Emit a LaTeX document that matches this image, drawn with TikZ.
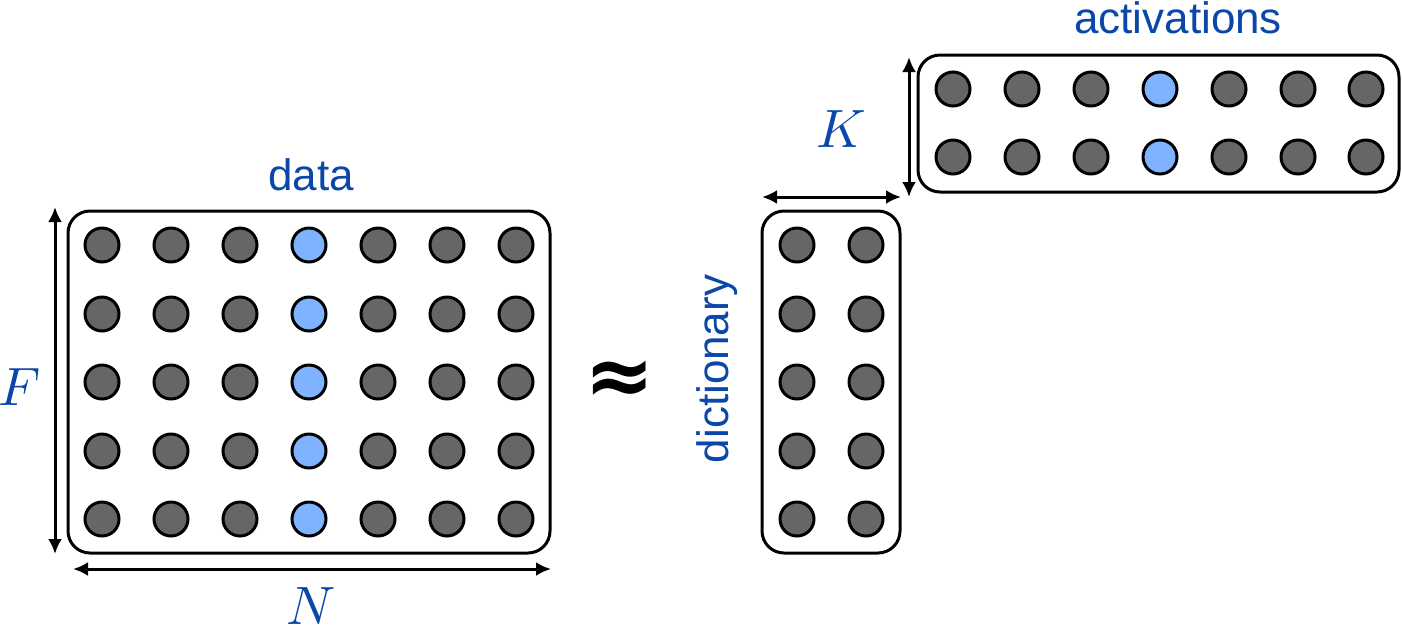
\documentclass[tikz,border=0pt]{standalone}
\usepackage{fontspec}
\newfontfamily\labfont{Liberation Sans}
\newfontfamily\symfont{DejaVu Sans}
\usetikzlibrary{arrows.meta}
\definecolor{labblue}{HTML}{0A47A8}
\definecolor{dotgray}{HTML}{666666}
\definecolor{dotblue}{HTML}{80B3FF}
\begin{document}
\begin{tikzpicture}[x=1pt,y=-1pt,
  mbox/.style={draw=black,line width=3pt,rounded corners=22pt},
  gdot/.style={circle,draw=black,line width=3pt,fill=dotgray,minimum size=34pt,inner sep=0pt},
  bdot/.style={gdot,fill=dotblue},
  dimarrow/.style={line width=3pt,{Latex[length=15pt,width=14pt]}-{Latex[length=15pt,width=14pt]}},
  wordlab/.style={text=labblue,font=\labfont\fontsize{44}{50}\selectfont,inner sep=0pt},
  mathlab/.style={text=labblue,inner sep=0pt}]
\useasboundingbox (0,0) rectangle (1402,625);
% data matrix
\draw[mbox] (68,211) rectangle (550,553);
\foreach \c [count=\i] in {102,171,240,309,378,447,516}{
  \foreach \r [count=\j] in {245,314,382,451,519}{
    \ifnum\i=4 \node[bdot] (d\i\j) at (\c,\r) {};
    \else \node[gdot] (d\i\j) at (\c,\r) {}; \fi
  }
}
\node[wordlab] (datalab) at (311,175) {data};
\coordinate (fT) at (55,207);
\coordinate (fB) at (55,554);
\draw[dimarrow] (fT) -- (fB);
\node[mathlab] (flab) at (20,387) {\scalebox{5.4}{$F$}};
\coordinate (nL) at (73,569);
\coordinate (nR) at (551,569);
\draw[dimarrow] (nL) -- (nR);
\node[mathlab] (nlab) at (311,606) {\scalebox{5.4}{$N$}};
% approx
\node[inner sep=0pt,font=\symfont\bfseries\fontsize{84}{90}\selectfont] (approx) at (620,383) {≈};
% dictionary
\draw[mbox] (762,211) rectangle (900,553);
\foreach \c [count=\i] in {797,866}{
  \foreach \r [count=\j] in {245,314,382,451,519}{
    \node[gdot] (k\i\j) at (\c,\r) {};
  }
}
\node[wordlab,rotate=90] (dictlab) at (717,369) {dictionary};
\coordinate (kL) at (762,197);
\coordinate (kR) at (901,197);
\draw[dimarrow] (kL) -- (kR);
\node[mathlab] (klab) at (841,129) {\scalebox{5.4}{$K$}};
% activations
\draw[mbox] (918,55) rectangle (1399,192);
\foreach \c [count=\i] in {953,1022,1091,1160,1229,1298,1366}{
  \foreach \r [count=\j] in {89,157}{
    \ifnum\i=4 \node[bdot] (a\i\j) at (\c,\r) {};
    \else \node[gdot] (a\i\j) at (\c,\r) {}; \fi
  }
}
\coordinate (vT) at (909,57);
\coordinate (vB) at (909,197);
\draw[dimarrow] (vT) -- (vB);
\node[wordlab] (actlab) at (1178,18) {activations};
\end{tikzpicture}
\end{document}
